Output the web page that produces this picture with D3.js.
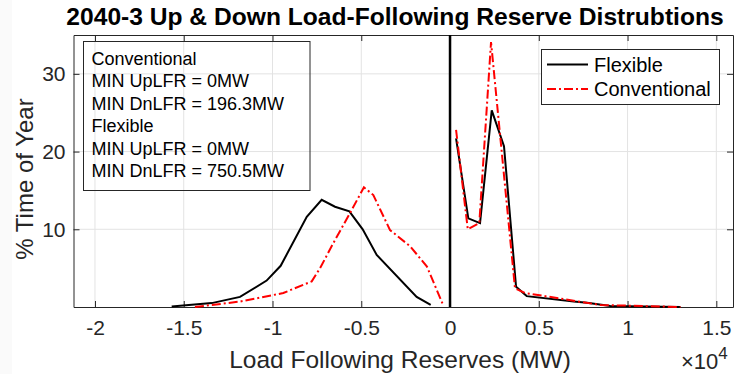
<!DOCTYPE html>
<html>
<head>
<meta charset="utf-8">
<script src="https://cdn.jsdelivr.net/npm/d3@7"></script>
<style>
  body { margin: 0; background: #fff; }
  text { font-family: "Liberation Sans", Arial, sans-serif; fill: #262626; }
</style>
</head>
<body>
<div id="chart"></div>
<script>
// reserve level (MW) and % time of year
var flex_x = [-15680, -13425, -11830, -10330, -9540, -8070, -7230, -6480, -5670, -4920, -4130, -1880, -1090,
              340, 1030, 1690, 2350, 3040, 3720, 4320, 6970, 7720, 9030, 12980];
var flex_y = [0.05, 0.5, 1.3, 3.4, 5.3, 11.6, 13.8, 12.9, 12.3, 10.0, 6.7, 1.3, 0.26,
              21.7, 11.4, 10.8, 25.3, 20.7, 2.6, 1.4, 0.7, 0.55, 0.13, 0.0];

var conv_x = [-14370, -11830, -9390, -7790, -7320, -6580, -5630, -4850, -4320, -3380, -2240, -1300, -390,
              340, 1000, 1650, 2310, 3660, 4240, 8470, 12980];
var conv_y = [0.0, 0.7, 1.8, 3.3, 5.0, 8.2, 12.1, 15.4, 14.4, 9.9, 7.8, 5.2, 0.26,
              22.8, 10.0, 10.8, 34.1, 2.4, 1.8, 0.26, 0.0];

var zero_x = [0, 0];
var zero_y = [0, 35];

var x_ticks = [-20000, -15000, -10000, -5000, 0, 5000, 10000, 15000];
var y_ticks = [10, 20, 30];

var note_lines = ['Conventional', 'MIN UpLFR = 0MW', 'MIN DnLFR = 196.3MW',
                  'Flexible', 'MIN UpLFR = 0MW', 'MIN DnLFR = 750.5MW'];
var legend_names = ['Flexible', 'Conventional'];

var width = 734, height = 374;
var plot_left = 73.5, plot_right = 733, plot_top = 35, plot_bottom = 307;
var axis_color = '#262626';
var grid_color = '#e3e3e3';

var svg = d3.select('#chart').append('svg')
    .attr('width', width)
    .attr('height', height);

svg.append('rect').attr('width', width).attr('height', height).attr('fill', '#fff');
svg.append('rect').attr('width', 12).attr('height', height).attr('fill', '#fafafa');

var x_scale = d3.scaleLinear().domain([-21210, 15940]).range([plot_left, plot_right]);
var y_scale = d3.scaleLinear().domain([0, 35]).range([plot_bottom, plot_top]);

// grid
svg.append('g').selectAll('line').data(x_ticks).enter().append('line')
    .attr('x1', function(d) { return x_scale(d); })
    .attr('x2', function(d) { return x_scale(d); })
    .attr('y1', plot_top).attr('y2', plot_bottom)
    .attr('stroke', grid_color).attr('stroke-width', 1);
svg.append('g').selectAll('line').data(y_ticks).enter().append('line')
    .attr('y1', function(d) { return y_scale(d); })
    .attr('y2', function(d) { return y_scale(d); })
    .attr('x1', plot_left).attr('x2', plot_right)
    .attr('stroke', grid_color).attr('stroke-width', 1);

// axes (ticks pointing inward)
var tick_fmt = function(d) { return d / 10000; };
svg.append('g')
    .attr('transform', 'translate(0,' + plot_bottom + ')')
    .call(d3.axisBottom(x_scale).tickValues(x_ticks).tickFormat(tick_fmt).tickSizeInner(-6).tickSizeOuter(0).tickPadding(13));
svg.append('g')
    .attr('transform', 'translate(0,' + plot_top + ')')
    .call(d3.axisTop(x_scale).tickValues(x_ticks).tickFormat('').tickSizeInner(-6).tickSizeOuter(0));
svg.append('g')
    .attr('transform', 'translate(' + plot_left + ',0)')
    .call(d3.axisLeft(y_scale).tickValues(y_ticks).tickSizeInner(-6).tickSizeOuter(0).tickPadding(8));
svg.append('g')
    .attr('transform', 'translate(' + plot_right + ',0)')
    .call(d3.axisRight(y_scale).tickValues(y_ticks).tickFormat('').tickSizeInner(-6).tickSizeOuter(0));

svg.selectAll('.domain').attr('stroke', axis_color);
svg.selectAll('.tick line').attr('stroke', axis_color);
svg.selectAll('.tick text')
    .style('font-family', '"Liberation Sans", Arial, sans-serif')
    .style('font-size', '21px')
    .attr('fill', axis_color);

// lines
var line = d3.line()
    .x(function(d) { return x_scale(d[0]); })
    .y(function(d) { return y_scale(d[1]); });

svg.append('path')
    .datum(d3.zip(zero_x, zero_y))
    .attr('d', line)
    .attr('fill', 'none').attr('stroke', '#000').attr('stroke-width', 2.5);

svg.append('path')
    .datum(d3.zip(flex_x.slice(0, 13), flex_y.slice(0, 13)))
    .attr('d', line)
    .attr('fill', 'none').attr('stroke', '#000').attr('stroke-width', 2);
svg.append('path')
    .datum(d3.zip(flex_x.slice(13), flex_y.slice(13)))
    .attr('d', line)
    .attr('fill', 'none').attr('stroke', '#000').attr('stroke-width', 2);

svg.append('path')
    .datum(d3.zip(conv_x.slice(0, 13), conv_y.slice(0, 13)))
    .attr('d', line)
    .attr('fill', 'none').attr('stroke', '#ff0000').attr('stroke-width', 2)
    .attr('stroke-dasharray', '9,3,2,3');
svg.append('path')
    .datum(d3.zip(conv_x.slice(13), conv_y.slice(13)))
    .attr('d', line)
    .attr('fill', 'none').attr('stroke', '#ff0000').attr('stroke-width', 2)
    .attr('stroke-dasharray', '9,3,2,3');

// title and labels
svg.append('text')
    .attr('x', 395).attr('y', 25)
    .attr('text-anchor', 'middle')
    .style('font-size', '24.6px').style('font-weight', 'bold')
    .style('fill', '#000')
    .text('2040-3 Up & Down Load-Following Reserve Distrubtions');

svg.append('text')
    .attr('x', 400).attr('y', 368)
    .attr('text-anchor', 'middle')
    .style('font-size', '24.5px')
    .text('Load Following Reserves (MW)');

svg.append('text')
    .attr('transform', 'translate(33,179) rotate(-90)')
    .attr('text-anchor', 'middle')
    .style('font-size', '24px')
    .text('% Time of Year');

var exp_label = svg.append('text')
    .attr('x', 681).attr('y', 369)
    .style('font-size', '22px');
exp_label.append('tspan').text('\u00d710');
exp_label.append('tspan').attr('dy', -10).style('font-size', '17px').text('4');

// annotation box
svg.append('rect')
    .attr('x', 83.5).attr('y', 41.5).attr('width', 226.5).attr('height', 149)
    .attr('fill', 'none').attr('stroke', axis_color).attr('stroke-width', 1);
svg.append('g').selectAll('text').data(note_lines).enter().append('text')
    .attr('x', 91.5)
    .attr('y', function(d, i) { return 65 + i * 22.4; })
    .style('font-size', '18px')
    .style('fill', '#000')
    .text(function(d) { return d; });

// legend
svg.append('rect')
    .attr('x', 541.5).attr('y', 49.5).attr('width', 178).attr('height', 55)
    .attr('fill', '#fff').attr('stroke', axis_color).attr('stroke-width', 1);
var legend = svg.append('g').selectAll('g').data(legend_names).enter().append('g')
    .attr('transform', function(d, i) { return 'translate(547,' + (64.5 + i * 24.5) + ')'; });
legend.append('line')
    .attr('x1', 0).attr('x2', 41)
    .attr('stroke', function(d, i) { return i === 0 ? '#000' : '#ff0000'; })
    .attr('stroke-width', 2)
    .attr('stroke-dasharray', function(d, i) { return i === 0 ? null : '9,3,2,3'; });
legend.append('text')
    .attr('x', 47).attr('y', 7)
    .style('font-size', '20px')
    .style('fill', '#000')
    .text(function(d) { return d; });
</script>
</body>
</html>
